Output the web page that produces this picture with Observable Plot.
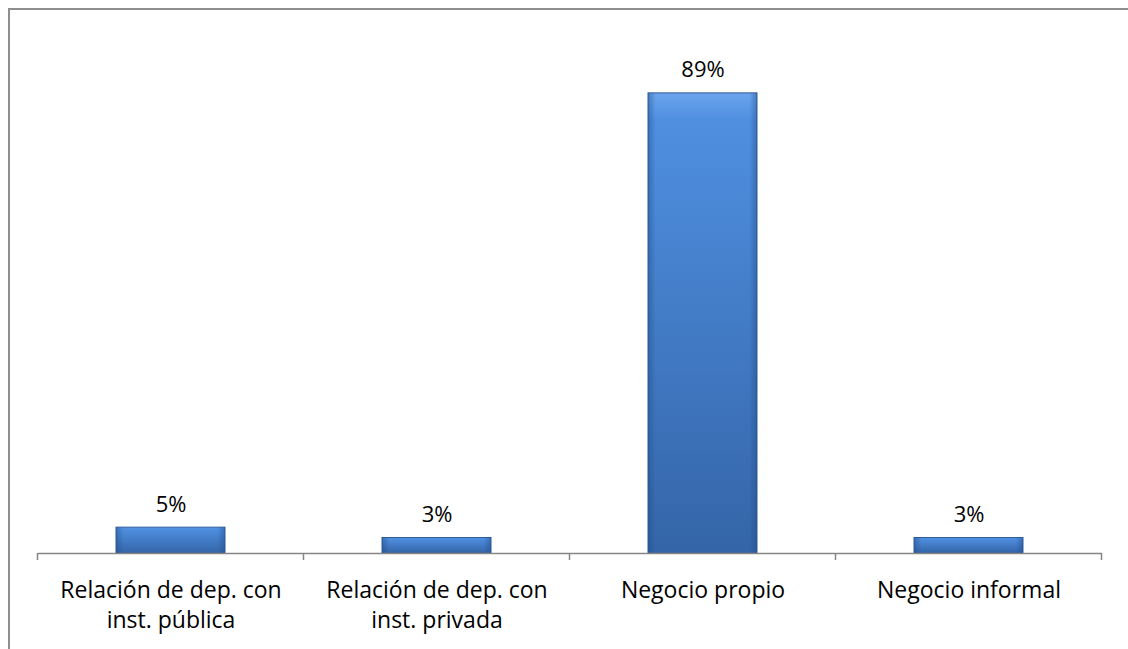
<!DOCTYPE html>
<html>
<head>
<meta charset="utf-8">
<script src="https://cdn.jsdelivr.net/npm/d3@7"></script>
<script src="https://cdn.jsdelivr.net/npm/@observablehq/plot@0.6"></script>
<style>
  html, body { margin: 0; padding: 0; background: #fff; }
  #wrap { position: relative; width: 1128px; height: 649px; overflow: hidden; }
  #frame { position: absolute; left: 8px; top: 8px; width: 1130px; height: 660px;
           border-top: 2px solid #8e8e8e; border-left: 2px solid #8e8e8e; box-sizing: border-box; }
  #chart { position: absolute; left: 0; top: 0; }
</style>
</head>
<body>
<div id="wrap">
  <div id="frame"></div>
  <div id="chart"></div>
</div>
<script>
const categories = ["Relación de dep. con inst. pública", "Relación de dep. con inst. privada", "Negocio propio", "Negocio informal"];
const tickLabels = ["Relación de dep. con\ninst. pública", "Relación de dep. con\ninst. privada", "Negocio propio", "Negocio informal"];
const values = [5, 3, 89, 3];

const data = categories.map((c, i) => ({category: c, value: values[i]}));
const labelOf = new Map(categories.map((c, i) => [c, tickLabels[i]]));

const font = "Open Sans, Liberation Sans, sans-serif";

const plot = Plot.plot({
  width: 1128,
  height: 649,
  marginLeft: 38,
  marginRight: 26,
  marginTop: 36,
  marginBottom: 96,
  style: {fontFamily: font, fontSize: "22px", color: "#000", background: "transparent"},
  x: {domain: categories, paddingInner: 0.59, paddingOuter: 0.295, label: null},
  y: {domain: [0, 100], axis: null},
  marks: [
    Plot.barY(data, {x: "category", y: "value", fill: "#4a86d2", stroke: "#2f5c98", strokeWidth: 1}),
    Plot.text(data, {x: "category", y: "value", text: d => d.value + "%", dy: -23, fontSize: 22, fill: "#000"}),
    Plot.ruleY([0], {stroke: "#868686", strokeWidth: 1.5}),
    Plot.axisX({tickSize: 0, tickPadding: 23, fontSize: 23, lineHeight: 1.3, tickFormat: d => labelOf.get(d), fill: "#000"})
  ]
});

document.getElementById("chart").appendChild(plot);

// gradient for bars
const svg = d3.select(plot);
const defs = svg.insert("defs", ":first-child");
const g = defs.append("linearGradient").attr("id", "barGrad").attr("x1", 0).attr("y1", 0).attr("x2", 0).attr("y2", 1);
g.append("stop").attr("offset", "0%").attr("stop-color", "#6aa4ec");
g.append("stop").attr("offset", "6%").attr("stop-color", "#4f8fe0");
g.append("stop").attr("offset", "100%").attr("stop-color", "#3465a8");
const gh = defs.append("linearGradient").attr("id", "sideGrad").attr("x1", 0).attr("y1", 0).attr("x2", 1).attr("y2", 0);
gh.append("stop").attr("offset", "0%").attr("stop-color", "#1f4a85").attr("stop-opacity", 0.45);
gh.append("stop").attr("offset", "7%").attr("stop-color", "#1f4a85").attr("stop-opacity", 0);
gh.append("stop").attr("offset", "93%").attr("stop-color", "#1f4a85").attr("stop-opacity", 0);
gh.append("stop").attr("offset", "100%").attr("stop-color", "#1f4a85").attr("stop-opacity", 0.45);

svg.selectAll("g[aria-label=bar] rect").each(function() {
  const r = d3.select(this);
  r.attr("fill", "url(#barGrad)");
  const clone = this.cloneNode();
  d3.select(clone).attr("fill", "url(#sideGrad)").attr("stroke", "none");
  this.parentNode.appendChild(clone);
});

// tick marks at band boundaries (Excel style)
const xs = plot.scale("x");
const ys = plot.scale("y");
const gap = xs.step - xs.bandwidth;
const bounds = categories.map(c => xs.apply(c) - gap / 2);
bounds.push(xs.apply(categories[categories.length - 1]) + xs.bandwidth + gap / 2);
const y0 = ys.apply(0);
svg.append("g").attr("aria-label", "ticks").selectAll("line").data(bounds).join("line")
  .attr("x1", d => d).attr("x2", d => d).attr("y1", y0).attr("y2", y0 + 7)
  .attr("stroke", "#868686").attr("stroke-width", 1.5);
</script>
</body>
</html>
